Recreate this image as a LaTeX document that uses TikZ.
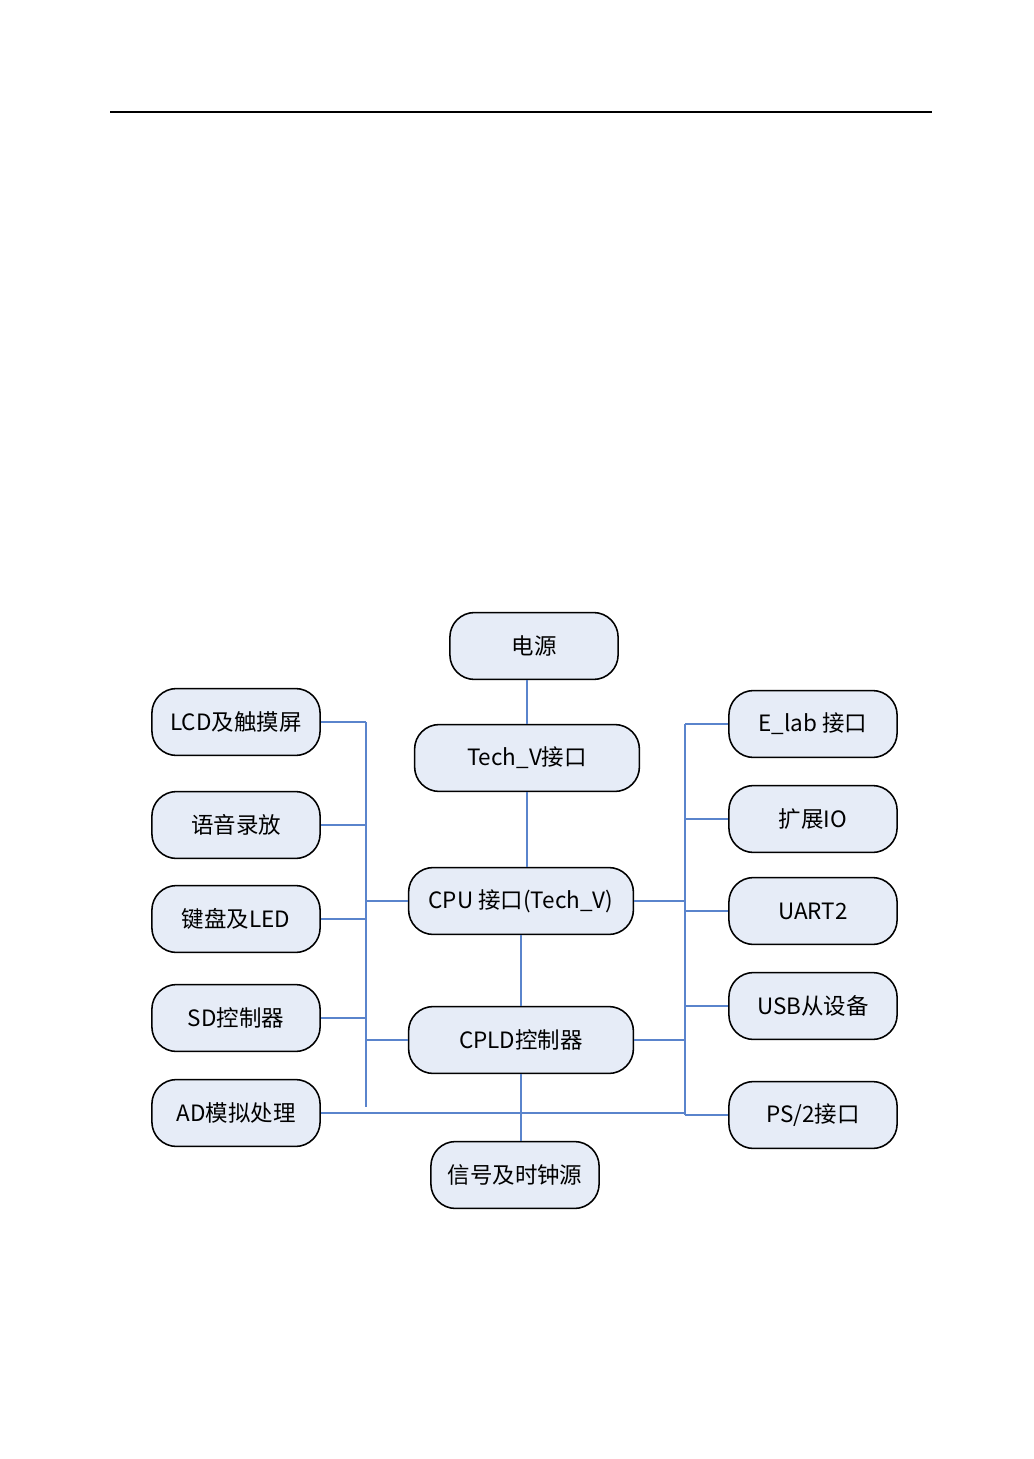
\documentclass[tikz,border=0pt]{standalone}
\usepackage{fontspec}
\usepackage{tikz}
\newfontfamily\cjk{Noto Sans CJK SC}
\definecolor{boxfill}{HTML}{E6ECF7}
\definecolor{linkblue}{HTML}{5A84CC}
\tikzset{
  unit/.style={draw=black, line width=0.9pt, fill=boxfill, rounded corners=5mm,
    minimum width=34.2mm, minimum height=13.6mm, inner sep=2pt,
    font=\cjk\fontsize{13}{15}\selectfont},
  wideunit/.style={unit, minimum width=45.7mm},
  link/.style={draw=linkblue, line width=0.8pt}
}
\begin{document}
\begin{tikzpicture}[x=0.2033mm, y=-0.2033mm] % Block diagram
  \useasboundingbox (0,0) rectangle (1033,1459);
  \draw[line width=0.8pt] (110,112) -- (932,112);
  % centre column
  \node[unit] (power) at (534,646) {电源};
  \node[wideunit] (techv) at (527,758) {Tech\_V接口};
  \node[wideunit] (cpu) at (521,901) {CPU 接口(Tech\_V)};
  \node[wideunit] (cpld) at (521,1040) {CPLD控制器};
  \node[unit] (clk) at (515,1175) {信号及时钟源};
  % left column
  \node[unit] (lcd) at (236,722) {LCD及触摸屏};
  \node[unit] (voice) at (236,825) {语音录放};
  \node[unit] (keys) at (236,919) {键盘及LED};
  \node[unit] (sd) at (236,1018) {SD控制器};
  \node[unit] (ad) at (236,1113) {AD模拟处理};
  % right column
  \node[unit] (elab) at (813,724) {E\_lab 接口};
  \node[unit] (extio) at (813,819) {扩展IO};
  \node[unit] (uart) at (813,911) {UART2};
  \node[unit] (usb) at (813,1006) {USB从设备};
  \node[unit] (ps2) at (813,1115) {PS/2接口};
  % buses
  \coordinate (lbtop) at (366,722);
  \coordinate (lbbot) at (366,1107);
  \coordinate (rbtop) at (685,724);
  \coordinate (rbbot) at (685,1115);
  \draw[link] (lbtop) -- (lbbot);
  \draw[link] (rbtop) -- (rbbot);
  % centre links
  \draw[link] (techv.north) -- (techv.north |- power.south);
  \draw[link] (techv.south) -- (techv.south |- cpu.north);
  \draw[link] (cpu) -- (cpld);
  \draw[link] (cpld.south) -- (cpld.south |- clk.north);
  % left links
  \draw[link] (lcd.east) -- (lcd.east -| lbtop);
  \draw[link] (voice.east) -- (voice.east -| lbtop);
  \draw[link] (keys.east) -- (keys.east -| lbtop);
  \draw[link] (sd.east) -- (sd.east -| lbtop);
  \draw[link] (cpu.west) -- (cpu.west -| lbtop);
  \draw[link] (cpld.west) -- (cpld.west -| lbtop);
  \draw[link] (ad.east) -- (ad.east -| rbtop);
  % right links
  \draw[link] (elab.west) -- (elab.west -| rbtop);
  \draw[link] (extio.west) -- (extio.west -| rbtop);
  \draw[link] (uart.west) -- (uart.west -| rbtop);
  \draw[link] (usb.west) -- (usb.west -| rbtop);
  \draw[link] (ps2.west) -- (ps2.west -| rbtop);
  \draw[link] (cpu.east) -- (cpu.east -| rbtop);
  \draw[link] (cpld.east) -- (cpld.east -| rbtop);
\end{tikzpicture}
\end{document}
